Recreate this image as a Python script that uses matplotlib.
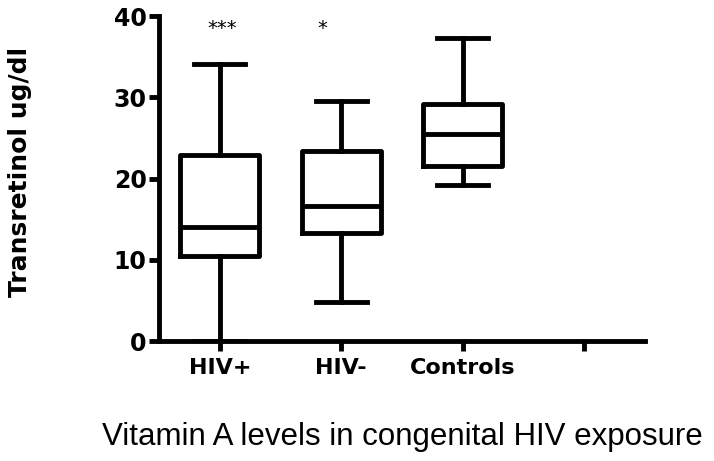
import matplotlib
matplotlib.use('Agg')
import matplotlib.pyplot as plt

# Box summary values (ug/dl)
groups = ['HIV+', 'HIV-', 'Controls']
whisker_low = [0.0, 4.8, 19.2]
q1 = [10.5, 13.3, 21.5]
median = [14.0, 16.6, 25.5]
q3 = [22.9, 23.4, 29.2]
whisker_high = [34.1, 29.5, 37.3]
stars = ['***', '*', '']
star_x = [1.02, 1.84, 3.0]

stats = []
for i in range(len(groups)):
  stats.append({'label': groups[i], 'whislo': whisker_low[i], 'q1': q1[i],
                'med': median[i], 'q3': q3[i], 'whishi': whisker_high[i]})

fig = plt.figure(figsize=(7.14, 4.61), dpi=100)
ax = fig.add_axes([0.223, 0.26, 0.68, 0.705])

lw = 3.5
ax.bxp(stats, positions=[1, 2, 3], widths=0.65, capwidths=0.42, showfliers=False,
       boxprops=dict(linewidth=lw, color='black'),
       medianprops=dict(linewidth=lw, color='black'),
       whiskerprops=dict(linewidth=lw, color='black'),
       capprops=dict(linewidth=lw, color='black'))

# significance marks
for x, s in zip(star_x, stars):
  if s:
    ax.text(x, 39.6, s, ha='center', va='top', fontsize=14)

ax.set_xlim(0.5, 4.5)
ax.set_ylim(0, 40)
ax.set_xticks([1, 2, 3, 4])
ax.set_xticklabels(groups + [''], fontsize=16, fontweight='bold')
ax.set_yticks([0, 10, 20, 30, 40])
ax.set_yticklabels(['0', '10', '20', '30', '40'], fontsize=17, fontweight='bold')
ax.tick_params(axis='both', width=lw, length=7, direction='out')
ax.tick_params(axis='x', pad=5)
ax.tick_params(axis='y', pad=2)

for side in ['top', 'right']:
  ax.spines[side].set_visible(False)
for side in ['left', 'bottom']:
  ax.spines[side].set_linewidth(lw)

ax.set_ylabel('Transretinol ug/dl', fontsize=18, fontweight='bold')
ax.yaxis.set_label_coords(-0.262, 0.52)
fig.text(0.563, 0.052, 'Vitamin A levels in congenital HIV exposure',
         ha='center', va='center', fontsize=22.5, family='Liberation Sans')

fig.savefig('out.png', dpi=100)
